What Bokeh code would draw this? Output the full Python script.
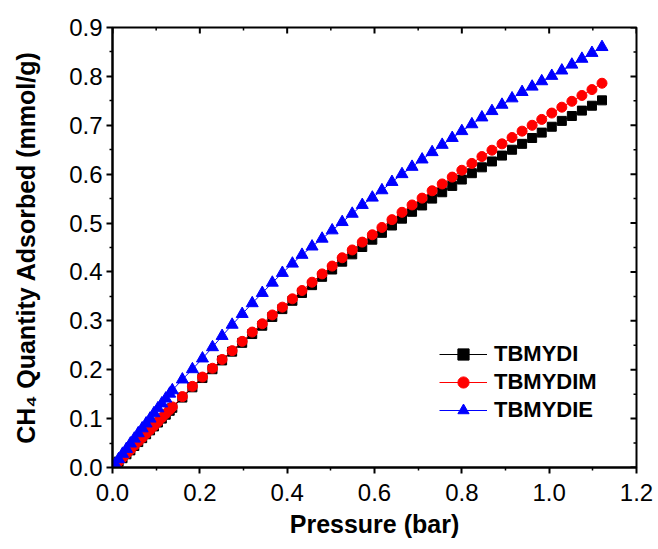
import math
from bokeh.plotting import figure
from bokeh.models import Range1d, FixedTicker, PrintfTickFormatter
from bokeh.embed import file_html
from bokeh.resources import INLINE

# ---------------- data ----------------
pressure = [0.006, 0.014, 0.023, 0.032, 0.041, 0.050, 0.059, 0.068, 0.077, 0.086,
            0.095, 0.104, 0.113, 0.122, 0.131, 0.137, 0.160, 0.183, 0.206, 0.229,
            0.251, 0.274, 0.297, 0.320, 0.343, 0.366, 0.389, 0.412, 0.434, 0.457,
            0.480, 0.503, 0.526, 0.549, 0.572, 0.595, 0.617, 0.640, 0.663, 0.686,
            0.709, 0.732, 0.755, 0.778, 0.800, 0.823, 0.846, 0.869, 0.892, 0.915,
            0.938, 0.961, 0.983, 1.006, 1.029, 1.052, 1.075, 1.098, 1.121]

tbmydi = [0.005, 0.012, 0.019, 0.027, 0.035, 0.044, 0.052, 0.060, 0.068, 0.076,
          0.084, 0.092, 0.100, 0.108, 0.116, 0.122, 0.143, 0.164, 0.183, 0.201,
          0.219, 0.237, 0.255, 0.273, 0.290, 0.308, 0.324, 0.341, 0.357, 0.373,
          0.390, 0.405, 0.421, 0.436, 0.451, 0.466, 0.480, 0.495, 0.509, 0.523,
          0.536, 0.550, 0.563, 0.576, 0.589, 0.602, 0.614, 0.626, 0.638, 0.650,
          0.662, 0.674, 0.685, 0.697, 0.709, 0.719, 0.730, 0.740, 0.751]

tbmydim = [0.005, 0.012, 0.020, 0.028, 0.036, 0.045, 0.053, 0.061, 0.069, 0.077,
           0.085, 0.093, 0.102, 0.110, 0.118, 0.124, 0.145, 0.166, 0.185, 0.203,
           0.221, 0.239, 0.258, 0.277, 0.294, 0.312, 0.328, 0.345, 0.362, 0.379,
           0.396, 0.412, 0.429, 0.445, 0.461, 0.476, 0.491, 0.507, 0.522, 0.537,
           0.551, 0.566, 0.580, 0.594, 0.608, 0.622, 0.636, 0.649, 0.662, 0.675,
           0.688, 0.700, 0.712, 0.725, 0.737, 0.749, 0.761, 0.773, 0.786]

tbmydie = [0.007, 0.017, 0.028, 0.038, 0.049, 0.059, 0.070, 0.080, 0.090, 0.100,
           0.111, 0.121, 0.131, 0.141, 0.151, 0.158, 0.180, 0.201, 0.223, 0.246,
           0.269, 0.292, 0.314, 0.336, 0.357, 0.378, 0.398, 0.417, 0.435, 0.452,
           0.468, 0.485, 0.502, 0.519, 0.537, 0.552, 0.567, 0.584, 0.600, 0.615,
           0.630, 0.645, 0.660, 0.674, 0.688, 0.702, 0.716, 0.729, 0.742, 0.755,
           0.768, 0.779, 0.790, 0.801, 0.812, 0.824, 0.836, 0.848, 0.860]

series_names = ["TBMYDI", "TBMYDIM", "TBMYDIE"]

x_ticks = [0.0, 0.2, 0.4, 0.6, 0.8, 1.0, 1.2]
x_minor = [0.1, 0.3, 0.5, 0.7, 0.9, 1.1]
y_ticks = [0.0, 0.1, 0.2, 0.3, 0.4, 0.5, 0.6, 0.7, 0.8, 0.9]
y_minor = [0.05, 0.15, 0.25, 0.35, 0.45, 0.55, 0.65, 0.75, 0.85]

x_label = "Pressure (bar)"
y_label = "CH\u2084 Quantity Adsorbed (mmol/g)"

FONT = "Liberation Sans"
X_MIN, X_MAX = 0.0, 1.2
Y_MIN, Y_MAX = 0.0, 0.9

# ---------------- figure ----------------
p = figure(width=658, height=549,
           x_range=Range1d(X_MIN, X_MAX), y_range=Range1d(Y_MIN, Y_MAX),
           output_backend="svg", toolbar_location=None,
           min_border_left=112, min_border_right=22,
           min_border_top=27, min_border_bottom=82)

p.xgrid.visible = False
p.ygrid.visible = False
p.outline_line_color = "black"
p.outline_line_width = 2
p.background_fill_color = "white"

xt = FixedTicker(ticks=x_ticks, minor_ticks=x_minor)
yt = FixedTicker(ticks=y_ticks, minor_ticks=y_minor)

def style_main(ax, ticker):
    ax.ticker = ticker
    ax.formatter = PrintfTickFormatter(format="%.1f")
    ax.axis_line_width = 2
    ax.axis_line_color = "black"
    ax.major_tick_line_width = 2
    ax.minor_tick_line_width = 1.5
    ax.major_tick_out = 6
    ax.major_tick_in = 0
    ax.minor_tick_out = 3
    ax.minor_tick_in = 0
    ax.major_label_text_font = FONT
    ax.major_label_text_font_size = "24px"
    ax.major_label_text_color = "black"
    ax.axis_label_text_font = FONT
    ax.axis_label_text_font_size = "25px"
    ax.axis_label_text_font_style = "bold"
    ax.axis_label_text_color = "black"

style_main(p.xaxis[0], xt)
style_main(p.yaxis[0], yt)
p.xaxis[0].axis_label = x_label
p.yaxis[0].axis_label = y_label
p.xaxis[0].major_label_standoff = 10
p.xaxis[0].axis_label_standoff = 6
p.yaxis[0].major_label_standoff = 4
p.yaxis[0].axis_label_standoff = 26

# mirrored inward ticks on the top and right frame edges (clipped to the frame)
p.scatter(x_ticks, [Y_MAX] * len(x_ticks), marker="dash", angle=math.pi / 2,
          size=12, line_color="black", line_width=2)
p.scatter(x_minor, [Y_MAX] * len(x_minor), marker="dash", angle=math.pi / 2,
          size=6, line_color="black", line_width=1.5)
p.scatter([X_MAX] * len(y_ticks), y_ticks, marker="dash",
          size=12, line_color="black", line_width=2)
p.scatter([X_MAX] * len(y_minor), y_minor, marker="dash",
          size=6, line_color="black", line_width=1.5)

# ---------------- series ----------------
p.line(pressure, tbmydi, line_color="black", line_width=1, legend_label=series_names[0])
p.scatter(pressure, tbmydi, marker="square", size=9, fill_color="black",
          line_color="black", legend_label=series_names[0])

p.line(pressure, tbmydim, line_color="#FF0000", line_width=1, legend_label=series_names[1])
p.scatter(pressure, tbmydim, marker="circle", size=10, fill_color="#FF0000",
          line_color="#FF0000", legend_label=series_names[1])

p.line(pressure, tbmydie, line_color="#0000FF", line_width=1, legend_label=series_names[2])
p.scatter(pressure, tbmydie, marker="triangle", size=12, fill_color="#0000FF",
          line_color="#0000FF", legend_label=series_names[2])

lg = p.legend[0]
lg.location = (327, 43)
lg.label_text_font = FONT
lg.label_text_font_style = "bold"
lg.label_text_font_size = "22px"
lg.label_text_color = "black"
lg.glyph_width = 48
lg.glyph_height = 28
lg.label_height = 28
lg.spacing = 0
lg.padding = 5
lg.margin = 0
lg.label_standoff = 7
lg.border_line_color = None
lg.background_fill_alpha = 0

open("out.html", "w").write(file_html(p, INLINE))
